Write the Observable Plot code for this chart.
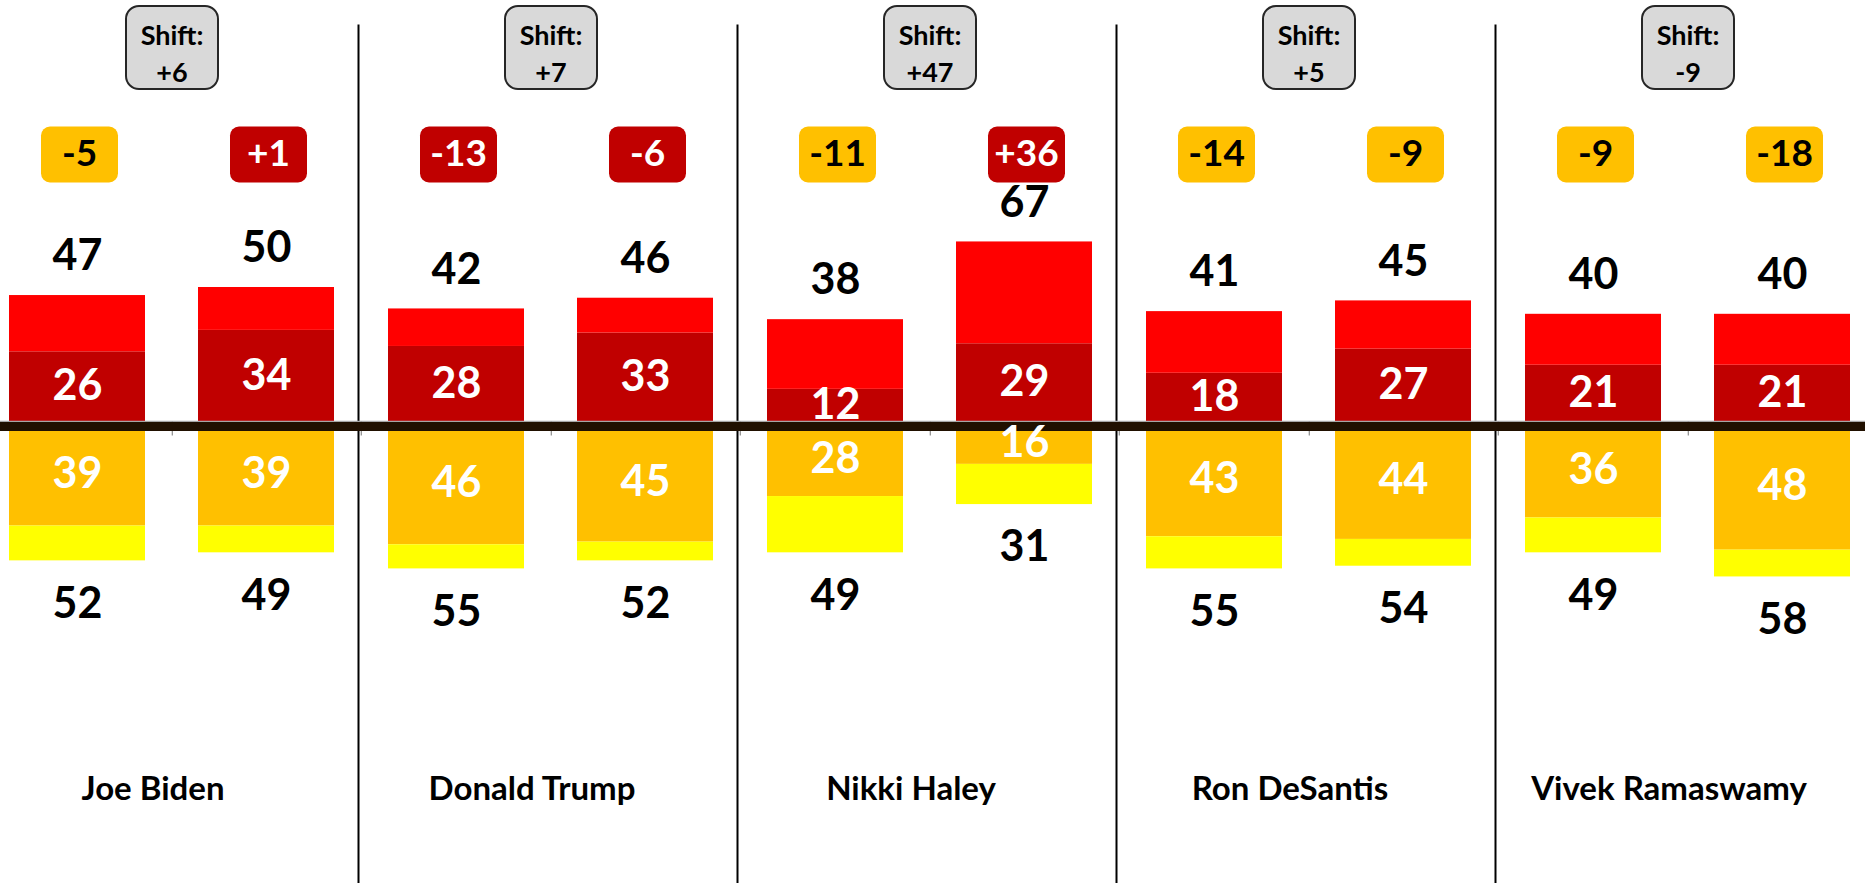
<!DOCTYPE html>
<html>
<head>
<meta charset="utf-8">
<script src="https://cdn.jsdelivr.net/npm/d3@7"></script>
<script src="https://cdn.jsdelivr.net/npm/@observablehq/plot@0.6"></script>
<style>
  html, body { margin: 0; padding: 0; background: #ffffff; }
  #chart svg { display: block; }
</style>
</head>
<body>
<div id="chart"></div>
<script>
// ---- data ----
const candidates = ["Joe Biden", "Donald Trump", "Nikki Haley", "Ron DeSantis", "Vivek Ramaswamy"];
const waves = ["Wave 1", "Wave 2"];
// one pair [wave 1, wave 2] per candidate
const favorableTotal    = [[47, 50], [42, 46], [38, 67], [41, 45], [40, 40]];
const strongFavorable   = [[26, 34], [28, 33], [12, 29], [18, 27], [21, 21]];
const unfavorableTotal  = [[52, 49], [55, 52], [49, 31], [55, 54], [49, 58]];
const strongUnfavorable = [[39, 39], [46, 45], [28, 16], [43, 44], [36, 48]];
// highlight category of the net-favorability badge
const netBadgeTone = [["amber", "crimson"], ["crimson", "crimson"], ["amber", "crimson"], ["amber", "amber"], ["amber", "amber"]];

// ---- styles ----
const segmentColor = {
  strongFav: "#c00000",
  somewhatFav: "#ff0000",
  strongUnfav: "#ffc000",
  somewhatUnfav: "#ffff00"
};
const toneFill = {amber: "#ffc000", crimson: "#c00000"};
const toneText = {amber: "#000000", crimson: "#ffffff"};
const FONT = "Lato, 'Open Sans', sans-serif";

const signed = v => (v > 0 ? "+" : "") + String(v);

// ---- derived tables ----
const bars = [];
const segments = [];
candidates.forEach((c, i) => {
  waves.forEach((w, j) => {
    const fav = favorableTotal[i][j], sFav = strongFavorable[i][j];
    const unf = unfavorableTotal[i][j], sUnf = strongUnfavorable[i][j];
    bars.push({candidate: c, wave: w, fav, sFav, unf, sUnf, net: fav - unf, tone: netBadgeTone[i][j]});
    segments.push({candidate: c, wave: w, y1: 0, y2: sFav, fill: segmentColor.strongFav});
    segments.push({candidate: c, wave: w, y1: sFav, y2: fav, fill: segmentColor.somewhatFav});
    segments.push({candidate: c, wave: w, y1: 0, y2: -sUnf, fill: segmentColor.strongUnfav});
    segments.push({candidate: c, wave: w, y1: -sUnf, y2: -unf, fill: segmentColor.somewhatUnfav});
  });
});
const groups = candidates.map((c, i) => ({
  candidate: c,
  shift: (favorableTotal[i][1] - unfavorableTotal[i][1]) - (favorableTotal[i][0] - unfavorableTotal[i][0])
}));

// ---- layout ----
const W = 1865, H = 883;
const fxRange = [-18.8, 1877.2];
const halfStep = (fxRange[1] - fxRange[0]) / candidates.length / waves.length / 2;

function roundRect(w, h, r) {
  return {
    draw(ctx) {
      const x0 = -w / 2, y0 = -h / 2, x1 = w / 2, y1 = h / 2;
      ctx.moveTo(x0 + r, y0);
      ctx.lineTo(x1 - r, y0);
      ctx.arcTo(x1, y0, x1, y0 + r, r);
      ctx.lineTo(x1, y1 - r);
      ctx.arcTo(x1, y1, x1 - r, y1, r);
      ctx.lineTo(x0 + r, y1);
      ctx.arcTo(x0, y1, x0, y1 - r, r);
      ctx.lineTo(x0, y0 + r);
      ctx.arcTo(x0, y0, x0 + r, y0, r);
      ctx.closePath();
    }
  };
}
const tickSymbol = {draw(ctx) { ctx.moveTo(0, 0); ctx.lineTo(0, 14); }};

const chart = Plot.plot({
  width: W,
  height: H,
  marginTop: 0, marginRight: 0, marginBottom: 0, marginLeft: 0,
  style: {fontFamily: FONT, background: "#ffffff"},
  fx: {domain: candidates, range: fxRange, padding: 0, axis: null},
  x: {domain: waves, paddingInner: 0.28, paddingOuter: 0.14, axis: null},
  y: {domain: [-172.39, 157.09], range: [H, 0], axis: null},
  color: {type: "identity"},
  marks: [
    Plot.frame({anchor: "left", stroke: "#000000", strokeWidth: 2, insetTop: 25, insetLeft: -3}),
    Plot.barY(segments, {fx: "candidate", x: "wave", y1: "y1", y2: "y2", fill: "fill"}),
    Plot.ruleY([0], {stroke: "#a6a6a6", strokeWidth: 1.5}),
    Plot.dot(bars, {fx: "candidate", x: "wave", y: () => 0, dx: halfStep, r: 5, symbol: tickSymbol, stroke: "#8c8c8c", strokeWidth: 1.2, fill: "none"}),
    Plot.ruleY([0], {stroke: "#201000", strokeWidth: 9, dy: 5}),
    // strong shares inside bars
    Plot.text(bars, {fx: "candidate", x: "wave", y: d => d.sFav / 2, text: d => String(d.sFav), fill: "#ffffff", fontSize: 43, fontWeight: "bold"}),
    Plot.text(bars, {fx: "candidate", x: "wave", y: d => -d.sUnf / 2, text: d => String(d.sUnf), fill: "#ffffff", fontSize: 43, fontWeight: "bold"}),
    // totals outside bars
    Plot.text(bars, {fx: "candidate", x: "wave", y: "fav", dy: -39, text: d => String(d.fav), fill: "#000000", fontSize: 43, fontWeight: "bold"}),
    Plot.text(bars, {fx: "candidate", x: "wave", y: d => -d.unf, dy: 43, text: d => String(d.unf), fill: "#000000", fontSize: 43, fontWeight: "bold"}),
    // net badges
    Plot.dot(bars, {fx: "candidate", x: "wave", frameAnchor: "top", dy: 154, dx: 2, r: 10, symbol: roundRect(77, 56, 9), fill: d => toneFill[d.tone]}),
    Plot.text(bars, {fx: "candidate", x: "wave", frameAnchor: "top", lineAnchor: "middle", dy: 154, dx: 2, text: d => signed(d.net), fill: d => toneText[d.tone], fontSize: 37, fontWeight: "bold"}),
    // shift boxes
    Plot.dot(groups, {fx: "candidate", frameAnchor: "top", dy: 47, r: 10, symbol: roundRect(92, 83, 13), fill: "#d9d9d9", stroke: "#262626", strokeWidth: 2}),
    Plot.text(groups, {fx: "candidate", frameAnchor: "top", lineAnchor: "middle", dy: 51, text: d => "Shift:\n" + signed(d.shift), lineHeight: 1.38, fill: "#000000", fontSize: 27, fontWeight: "bold"}),
    // candidate names
    Plot.text(groups, {fx: "candidate", frameAnchor: "bottom", lineAnchor: "middle", dy: -94, dx: -19, text: "candidate", fill: "#000000", fontSize: 33, fontWeight: "bold"})
  ]
});

document.getElementById("chart").appendChild(chart);
</script>
</body>
</html>
